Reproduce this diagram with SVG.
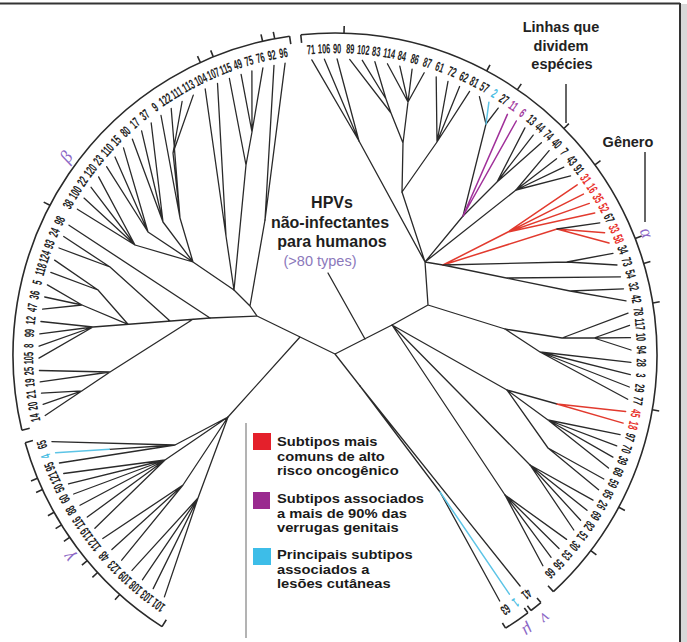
<svg xmlns="http://www.w3.org/2000/svg" width="687" height="642" viewBox="0 0 687 642">
<defs>
<style>
.t{fill:none;stroke:#2a2a2a;stroke-width:1.3;stroke-linecap:round}
.r{fill:none;stroke:#e23a2e;stroke-width:1.5;stroke-linecap:round}
.p{fill:none;stroke:#a0309a;stroke-width:1.5;stroke-linecap:round}
.c{fill:none;stroke:#5cc4e6;stroke-width:1.5;stroke-linecap:round}
.arc{fill:none;stroke:#2a2a2a;stroke-width:1.6}
.l{font-family:"Liberation Sans",Arial,sans-serif;font-weight:bold;font-size:13.5px;fill:#222;text-anchor:middle}
.lr{fill:#e8302a}.lp{fill:#a23a9e}.lc{fill:#48bde3}
.g{font-family:"Liberation Serif","DejaVu Serif",serif;font-style:italic;font-size:18px;fill:#8c68c6;text-anchor:middle}
.a{font-family:"Liberation Sans",Arial,sans-serif;font-weight:bold;font-size:14.5px;fill:#222;text-anchor:middle}
.h{font-family:"Liberation Sans",Arial,sans-serif;font-weight:bold;font-size:16px;fill:#1e1e1e;text-anchor:middle}
.lg{font-family:"Liberation Sans",Arial,sans-serif;font-weight:bold;font-size:12.9px;fill:#1a1a1a}
</style>
</defs>
<rect width="687" height="642" fill="#ffffff"/>
<g id="frame">
<rect x="681" y="4" width="6" height="638" fill="#d8d8d8"/>
<path d="M0 3.5 L680 3.5 M680 3 L680 642" fill="none" stroke="#333" stroke-width="2"/>
</g>

<g id="arcs">
<path class="arc" d="M300.8 34.8 A322 322 0 0 1 553.4 591.6"/>
<path class="arc" d="M21.9 430.2 A322 322 0 0 1 289.6 36.2"/>
<path class="arc" d="M162 626.6 A322 322 0 0 1 25.2 442.7"/>
<path class="arc" d="M540.9 602.6 A322 322 0 0 1 531 610.5 M527.9 612.8 A322 322 0 0 1 505.6 628.1"/>
<path class="arc" d="M289.6 36.2 L290.8 44.1 M21.9 430.2 L29.7 428.3 M25.2 442.7 L32.9 440.5 M162 626.6 L166.3 619.8 M300.8 34.8 L301.6 42.8 M553.4 591.6 L548 585.8 M540.9 602.6 L537 598 M531 610.5 L527.4 605.7 M527.9 612.8 L524.3 608 M505.6 628.1 L502.4 623"/>
<path class="arc" stroke-width="1.3" d="M274.7 38.7 L273.3 31.8 M262.6 41.2 L261 34.4 M213.3 56.9 L210.7 50.4 M200.4 62.5 L197.5 56.1 M49.9 205.3 L43.7 202.1 M344 33.1 L344.2 26.1 M486.7 71 L490 64.8 M517.4 89.6 L521.3 83.9 M563.9 128.5 L568.9 123.6 M594.9 164.8 L600.5 160.7 M635.2 238.6 L641.7 236 M643.7 263.6 L650.4 261.6 M652.8 303 L659.7 301.8 M652.3 409.8 L659.2 411 M618.8 507.2 L624.9 510.5 M590.8 550.6 L596.4 554.8 M37.5 478.2 L31 480.9 M42.5 489.6 L36.1 492.5 M54.1 512.3 L47.9 515.7 M61.5 524.9 L55.6 528.6 M69.6 537.4 L63.9 541.3 M87.3 560.7 L81.9 565.2 M97.6 572.5 L92.4 577.3 M119.7 594.5 L115 599.7"/>
</g>

<g id="connectors">
<path class="t" d="M335 354 L257 316 M335 354 L392 325 M300 337 L228 417 M335 354 L360 386 M257 316 L250 306 M257 316 L210 318 M250 306 L234 290 M250 306 L265 220 M392 325 L428 305 M428 305 L425 262 M392 325 L507 390 M392 325 L530 465 M392 325 L505 495 M428 305 L505 329 M425 262 L359 141 M425 262 L402 192 M425 262 L463 216 M425 262 L516 190 M425 262 L443 265"/>
<path class="t" d="M359 141 L311.8 59.9 M359 141 L324.4 59.2 M359 141 L337.1 59 M402 192 L403 143 M402 192 L437 142 M403 143 L391 113 M391 113 L349.7 59.4 M391 113 L386 99 M386 99 L362.3 60.3 M386 99 L374.9 61.7 M403 143 L408 102 M408 102 L387.4 63.7 M408 102 L399.8 66.2 M408 102 L412.1 69.2 M408 102 L424.2 72.8 M437 142 L436.2 76.8 M437 142 L448 81.4 M437 142 L459.6 86.5 M437 142 L469.6 91.4"/>
<path class="t" d="M463 216 L486 124 M486 124 L479.4 96.6 M486 124 L498.2 108.1 M463 216 L497 182 M497 182 L524.9 127.9 M497 182 L533.2 135.1 M497 182 L541.4 142.8 M516 190 L549.1 150.6 M516 190 L556.6 158.8 M516 190 L563.8 167.2 M516 190 L570.6 175.8"/>
<path class="c" d="M486 124 L488.9 102.2"/>
<path class="p" d="M463 216 L507.4 114.4 M463 216 L516.3 121"/>
<path class="r" d="M443 265 L508 232 M508 232 L577.2 184.8 M508 232 L583.4 194.1 M508 232 L589.3 203.4 M508 232 L594.7 213 M443 265 L557 229 M557 229 L604.6 232.8 M557 229 L609 243"/>
<path class="t" d="M557 229 L599.8 222.8 M443 265 L567 262 M567 262 L613 253.3 M567 262 L617 265 M443 265 L570 291 M507 278 L620.5 276.8 M570 291 L623.5 288.8 M570 291 L626 300.9"/>
<path class="t" d="M505 329 L562 338 M562 338 L594 338 M562 338 L628 313.1 M594 338 L629.5 325.3 M594 338 L630.5 337.7 M594 338 L631 350 M505 329 L540 352 M540 352 L630.9 362.4 M540 352 L630.3 374.7 M540 352 L629.3 387 M540 352 L627.7 399.3"/>
<path class="t" d="M507 390 L557 404 M507 390 L548 420 M548 420 L620.1 434.6 M548 420 L616.7 445.9 M548 420 L612.9 457.1 M548 420 L608.5 468.1 M507 390 L548 448 M548 448 L603.8 479 M548 448 L598.6 489.7"/>
<path class="r" d="M557 404 L625.6 411.5 M557 404 L623.1 423.1"/>
<path class="t" d="M530 465 L593 500.1 M530 465 L587 510.3 M530 465 L580.6 520.2 M530 465 L573.8 530 M505 495 L566.6 539.4 M505 495 L559 548.5 M505 495 L551.1 557.3 M505 495 L542.9 565.8"/>
<path class="t" d="M360 386 L520.1 586 M360 386 L440 492 M440 492 L499.7 601"/>
<path class="c" d="M440 492 L509.4 594.2"/>
<path class="t" d="M234 290 L246 165 M246 165 L252 132 M246 165 L229.4 78.5 M252 132 L262.9 67.9 M252 132 L251.9 70.9 M252 132 L241.1 74.3 M265 220 L285.1 63.2 M265 220 L274 65.4 M234 290 L226 236 M226 236 L217.5 83.3 M226 236 L205.2 89 M234 290 L193 262 M193 262 L180 218 M180 218 L173 153 M173 153 L193.3 95.1 M173 153 L182.1 101.5 M180 218 L171.2 108.5 M180 218 L161 115.5 M193 262 L163 222 M163 222 L151.2 123 M163 222 L141.6 130.9 M163 222 L132.4 139.2 M193 262 L148 232 M148 232 L123.5 147.9 M148 232 L115 157 M148 232 L106.6 166.7 M193 262 L135 245 M135 245 L98.6 176.9 M135 245 L91.1 187.3 M135 245 L84 198.1 M135 245 L77.4 209.2"/>
<path class="t" d="M210 318 L69 225.2 M210 318 L93 327 M193 319.3 L110 372 M110 372 L45.2 415.5 M110 372 L39.4 370.5 M110 372 L40.2 381.8 M82 390.8 L41.5 393.1 M82 390.8 L43.1 404.4 M170 321.1 L110 267 M110 267 L63.7 236.5 M110 267 L59 248 M128 324.3 L98 290 M98 290 L54.6 260.1 M98 290 L50.8 272.4 M128 324.3 L82 305 M82 305 L47.4 284.9 M82 305 L44.7 297 M82 305 L42.6 309.2 M93 327 L40.9 321.5 M93 327 L39.8 333.8 M93 327 L39.1 346.2 M93 327 L39 358.1"/>
<path class="t" d="M228 417 L175 445 M175 445 L51.9 441.6 M175 445 L59.4 463 M175 445 L109.3 449.3 M228 417 L165 460 M165 460 L63.7 473.5 M165 460 L68.5 483.8 M165 460 L73.7 494 M165 460 L80 505.2 M165 460 L87.3 517.1 M165 460 L94.9 528.2 M228 417 L183 485 M183 485 L102.8 538.5 M183 485 L111.9 549.6 M183 485 L121.7 560.2 M228 417 L198 498 M198 498 L132 570.4 M198 498 L142.4 579.8 M198 498 L153.2 588.6 M198 498 L164.4 596.9"/>
<path class="c" d="M55.6 452.8 L109.3 449.3"/>
<path class="t" d="M328 273 L365 339"/>
</g>

<g id="alpha-labels">
<g id="hpv71" transform="rotate(-4.5 335 355)"><text class="l" transform="translate(335 53.2) scale(.55 1)">71</text></g>
<g id="hpv106" transform="rotate(-2.05 335 355)"><text class="l" transform="translate(335 53.2) scale(.55 1)">106</text></g>
<g id="hpv90" transform="rotate(0.4 335 355)"><text class="l" transform="translate(335 53.2) scale(.55 1)">90</text></g>
<g id="hpv89" transform="rotate(2.85 335 355)"><text class="l" transform="translate(335 53.2) scale(.55 1)">89</text></g>
<g id="hpv102" transform="rotate(5.3 335 355)"><text class="l" transform="translate(335 53.2) scale(.55 1)">102</text></g>
<g id="hpv83" transform="rotate(7.75 335 355)"><text class="l" transform="translate(335 53.2) scale(.55 1)">83</text></g>
<g id="hpv114" transform="rotate(10.2 335 355)"><text class="l" transform="translate(335 53.2) scale(.55 1)">114</text></g>
<g id="hpv84" transform="rotate(12.65 335 355)"><text class="l" transform="translate(335 53.2) scale(.55 1)">84</text></g>
<g id="hpv86" transform="rotate(15.1 335 355)"><text class="l" transform="translate(335 53.2) scale(.55 1)">86</text></g>
<g id="hpv87" transform="rotate(17.55 335 355)"><text class="l" transform="translate(335 53.2) scale(.55 1)">87</text></g>
<g id="hpv61" transform="rotate(20 335 355)"><text class="l" transform="translate(335 53.2) scale(.55 1)">61</text></g>
<g id="hpv72" transform="rotate(22.45 335 355)"><text class="l" transform="translate(335 53.2) scale(.55 1)">72</text></g>
<g id="hpv62" transform="rotate(24.9 335 355)"><text class="l" transform="translate(335 53.2) scale(.55 1)">62</text></g>
<g id="hpv81" transform="rotate(27.04 335 355)"><text class="l" transform="translate(335 53.2) scale(.55 1)">81</text></g>
<g id="hpv57" transform="rotate(29.19 335 355)"><text class="l" transform="translate(335 53.2) scale(.55 1)">57</text></g>
<g id="hpv2" transform="rotate(31.33 335 355)"><text class="l lc" transform="translate(335 53.2) scale(.55 1)">2</text></g>
<g id="hpv27" transform="rotate(33.47 335 355)"><text class="l" transform="translate(335 53.2) scale(.55 1)">27</text></g>
<g id="hpv11" transform="rotate(35.62 335 355)"><text class="l lp" transform="translate(335 53.2) scale(.55 1)">11</text></g>
<g id="hpv6" transform="rotate(37.76 335 355)"><text class="l lp" transform="translate(335 53.2) scale(.55 1)">6</text></g>
<g id="hpv13" transform="rotate(39.9 335 355)"><text class="l" transform="translate(335 53.2) scale(.55 1)">13</text></g>
<g id="hpv44" transform="rotate(42.04 335 355)"><text class="l" transform="translate(335 53.2) scale(.55 1)">44</text></g>
<g id="hpv74" transform="rotate(44.19 335 355)"><text class="l" transform="translate(335 53.2) scale(.55 1)">74</text></g>
<g id="hpv40" transform="rotate(46.33 335 355)"><text class="l" transform="translate(335 53.2) scale(.55 1)">40</text></g>
<g id="hpv7" transform="rotate(48.47 335 355)"><text class="l" transform="translate(335 53.2) scale(.55 1)">7</text></g>
<g id="hpv43" transform="rotate(50.62 335 355)"><text class="l" transform="translate(335 53.2) scale(.55 1)">43</text></g>
<g id="hpv91" transform="rotate(52.76 335 355)"><text class="l" transform="translate(335 53.2) scale(.55 1)">91</text></g>
<g id="hpv31" transform="rotate(54.9 335 355)"><text class="l lr" transform="translate(335 53.2) scale(.55 1)">31</text></g>
<g id="hpv16" transform="rotate(57.04 335 355)"><text class="l lr" transform="translate(335 53.2) scale(.55 1)">16</text></g>
<g id="hpv35" transform="rotate(59.19 335 355)"><text class="l lr" transform="translate(335 53.2) scale(.55 1)">35</text></g>
<g id="hpv52" transform="rotate(61.33 335 355)"><text class="l lr" transform="translate(335 53.2) scale(.55 1)">52</text></g>
<g id="hpv67" transform="rotate(63.47 335 355)"><text class="l" transform="translate(335 53.2) scale(.55 1)">67</text></g>
<g id="hpv33" transform="rotate(65.62 335 355)"><text class="l lr" transform="translate(335 53.2) scale(.55 1)">33</text></g>
<g id="hpv58" transform="rotate(67.76 335 355)"><text class="l lr" transform="translate(335 53.2) scale(.55 1)">58</text></g>
<g id="hpv34" transform="rotate(69.9 335 355)"><text class="l" transform="translate(335 53.2) scale(.55 1)">34</text></g>
<g id="hpv73" transform="rotate(72.29 335 355)"><text class="l" transform="translate(335 53.2) scale(.55 1)">73</text></g>
<g id="hpv54" transform="rotate(74.68 335 355)"><text class="l" transform="translate(335 53.2) scale(.55 1)">54</text></g>
<g id="hpv32" transform="rotate(77.08 335 355)"><text class="l" transform="translate(335 53.2) scale(.55 1)">32</text></g>
<g id="hpv42" transform="rotate(79.47 335 355)"><text class="l" transform="translate(335 53.2) scale(.55 1)">42</text></g>
<g id="hpv78" transform="rotate(81.86 335 355)"><text class="l" transform="translate(335 53.2) scale(.55 1)">78</text></g>
<g id="hpv117" transform="rotate(84.25 335 355)"><text class="l" transform="translate(335 53.2) scale(.55 1)">117</text></g>
<g id="hpv10" transform="rotate(86.64 335 355)"><text class="l" transform="translate(335 53.2) scale(.55 1)">10</text></g>
<g id="hpv94" transform="rotate(89.04 335 355)"><text class="l" transform="translate(335 53.2) scale(.55 1)">94</text></g>
<g id="hpv28" transform="rotate(91.43 335 355)"><text class="l" transform="translate(335 53.2) scale(.55 1)">28</text></g>
<g id="hpv3" transform="rotate(93.82 335 355)"><text class="l" transform="translate(335 53.2) scale(.55 1)">3</text></g>
<g id="hpv29" transform="rotate(96.21 335 355)"><text class="l" transform="translate(335 53.2) scale(.55 1)">29</text></g>
<g id="hpv77" transform="rotate(98.6 335 355)"><text class="l" transform="translate(335 53.2) scale(.55 1)">77</text></g>
<g id="hpv45" transform="rotate(101 335 355)"><text class="l lr" transform="translate(335 53.2) scale(.55 1)">45</text></g>
<g id="hpv18" transform="rotate(103.29 335 355)"><text class="l lr" transform="translate(335 53.2) scale(.55 1)">18</text></g>
<g id="hpv97" transform="rotate(105.59 335 355)"><text class="l" transform="translate(335 53.2) scale(.55 1)">97</text></g>
<g id="hpv70" transform="rotate(107.88 335 355)"><text class="l" transform="translate(335 53.2) scale(.55 1)">70</text></g>
<g id="hpv39" transform="rotate(110.17 335 355)"><text class="l" transform="translate(335 53.2) scale(.55 1)">39</text></g>
<g id="hpv68" transform="rotate(112.47 335 355)"><text class="l" transform="translate(335 53.2) scale(.55 1)">68</text></g>
<g id="hpv59" transform="rotate(114.76 335 355)"><text class="l" transform="translate(335 53.2) scale(.55 1)">59</text></g>
<g id="hpv85" transform="rotate(117.05 335 355)"><text class="l" transform="translate(335 53.2) scale(.55 1)">85</text></g>
<g id="hpv26" transform="rotate(119.34 335 355)"><text class="l" transform="translate(335 53.2) scale(.55 1)">26</text></g>
<g id="hpv69" transform="rotate(121.64 335 355)"><text class="l" transform="translate(335 53.2) scale(.55 1)">69</text></g>
<g id="hpv82" transform="rotate(123.93 335 355)"><text class="l" transform="translate(335 53.2) scale(.55 1)">82</text></g>
<g id="hpv51" transform="rotate(126.22 335 355)"><text class="l" transform="translate(335 53.2) scale(.55 1)">51</text></g>
<g id="hpv30" transform="rotate(128.52 335 355)"><text class="l" transform="translate(335 53.2) scale(.55 1)">30</text></g>
<g id="hpv53" transform="rotate(130.81 335 355)"><text class="l" transform="translate(335 53.2) scale(.55 1)">53</text></g>
<g id="hpv56" transform="rotate(133.1 335 355)"><text class="l" transform="translate(335 53.2) scale(.55 1)">56</text></g>
<g id="hpv66" transform="rotate(135.4 335 355)"><text class="l" transform="translate(335 53.2) scale(.55 1)">66</text></g>
</g>

<g id="mu-nu-labels">
<g id="hpv41" transform="rotate(141.3 335 355)"><text class="l" transform="translate(335 53.2) scale(.55 1)">41</text></g>
<g id="hpv1" transform="rotate(143.9 335 355)"><text class="l lc" transform="translate(335 53.2) scale(.55 1)">1</text></g>
<g id="hpv63" transform="rotate(146.2 335 355)"><text class="l" transform="translate(335 53.2) scale(.55 1)">63</text></g>
</g>

<g id="beta-labels">
<g id="hpv96" transform="rotate(-9.7 335 355)"><text class="l" transform="translate(335 53.2) scale(.55 1)">96</text></g>
<g id="hpv92" transform="rotate(-11.9 335 355)"><text class="l" transform="translate(335 53.2) scale(.55 1)">92</text></g>
<g id="hpv76" transform="rotate(-14.1 335 355)"><text class="l" transform="translate(335 53.2) scale(.55 1)">76</text></g>
<g id="hpv75" transform="rotate(-16.3 335 355)"><text class="l" transform="translate(335 53.2) scale(.55 1)">75</text></g>
<g id="hpv49" transform="rotate(-18.5 335 355)"><text class="l" transform="translate(335 53.2) scale(.55 1)">49</text></g>
<g id="hpv115" transform="rotate(-20.9 335 355)"><text class="l" transform="translate(335 53.2) scale(.55 1)">115</text></g>
<g id="hpv107" transform="rotate(-23.4 335 355)"><text class="l" transform="translate(335 53.2) scale(.55 1)">107</text></g>
<g id="hpv104" transform="rotate(-26 335 355)"><text class="l" transform="translate(335 53.2) scale(.55 1)">104</text></g>
<g id="hpv113" transform="rotate(-28.6 335 355)"><text class="l" transform="translate(335 53.2) scale(.55 1)">113</text></g>
<g id="hpv111" transform="rotate(-31.1 335 355)"><text class="l" transform="translate(335 53.2) scale(.55 1)">111</text></g>
<g id="hpv122" transform="rotate(-33.6 335 355)"><text class="l" transform="translate(335 53.2) scale(.55 1)">122</text></g>
<g id="hpv9" transform="rotate(-36 335 355)"><text class="l" transform="translate(335 53.2) scale(.55 1)">9</text></g>
<g id="hpv37" transform="rotate(-38.4 335 355)"><text class="l" transform="translate(335 53.2) scale(.55 1)">37</text></g>
<g id="hpv17" transform="rotate(-40.8 335 355)"><text class="l" transform="translate(335 53.2) scale(.55 1)">17</text></g>
<g id="hpv80" transform="rotate(-43.2 335 355)"><text class="l" transform="translate(335 53.2) scale(.55 1)">80</text></g>
<g id="hpv15" transform="rotate(-45.6 335 355)"><text class="l" transform="translate(335 53.2) scale(.55 1)">15</text></g>
<g id="hpv110" transform="rotate(-48 335 355)"><text class="l" transform="translate(335 53.2) scale(.55 1)">110</text></g>
<g id="hpv23" transform="rotate(-50.5 335 355)"><text class="l" transform="translate(335 53.2) scale(.55 1)">23</text></g>
<g id="hpv120" transform="rotate(-53 335 355)"><text class="l" transform="translate(335 53.2) scale(.55 1)">120</text></g>
<g id="hpv22" transform="rotate(-55.5 335 355)"><text class="l" transform="translate(335 53.2) scale(.55 1)">22</text></g>
<g id="hpv100" transform="rotate(-58 335 355)"><text class="l" transform="translate(335 53.2) scale(.55 1)">100</text></g>
<g id="hpv38" transform="rotate(-60.5 335 355)"><text class="l" transform="translate(335 53.2) scale(.55 1)">38</text></g>
<g id="hpv98" transform="rotate(-64 335 355)"><text class="l" transform="translate(335 53.2) scale(.55 1)">98</text></g>
<g id="hpv24" transform="rotate(-66.4 335 355)"><text class="l" transform="translate(335 53.2) scale(.55 1)">24</text></g>
<g id="hpv93" transform="rotate(-68.8 335 355)"><text class="l" transform="translate(335 53.2) scale(.55 1)">93</text></g>
<g id="hpv124" transform="rotate(-71.3 335 355)"><text class="l" transform="translate(335 53.2) scale(.55 1)">124</text></g>
<g id="hpv118" transform="rotate(-73.8 335 355)"><text class="l" transform="translate(335 53.2) scale(.55 1)">118</text></g>
<g id="hpv5" transform="rotate(-76.3 335 355)"><text class="l" transform="translate(335 53.2) scale(.55 1)">5</text></g>
<g id="hpv36" transform="rotate(-78.7 335 355)"><text class="l" transform="translate(335 53.2) scale(.55 1)">36</text></g>
<g id="hpv47" transform="rotate(-81.1 335 355)"><text class="l" transform="translate(335 53.2) scale(.55 1)">47</text></g>
<g id="hpv12" transform="rotate(-83.5 335 355)"><text class="l" transform="translate(335 53.2) scale(.55 1)">12</text></g>
<g id="hpv99" transform="rotate(-85.9 335 355)"><text class="l" transform="translate(335 53.2) scale(.55 1)">99</text></g>
<g id="hpv8" transform="rotate(-88.3 335 355)"><text class="l" transform="translate(335 53.2) scale(.55 1)">8</text></g>
<g id="hpv105" transform="rotate(-90.6 335 355)"><text class="l" transform="translate(335 53.2) scale(.55 1)">105</text></g>
<g id="hpv25" transform="rotate(-93 335 355)"><text class="l" transform="translate(335 53.2) scale(.55 1)">25</text></g>
<g id="hpv19" transform="rotate(-95.2 335 355)"><text class="l" transform="translate(335 53.2) scale(.55 1)">19</text></g>
<g id="hpv21" transform="rotate(-97.4 335 355)"><text class="l" transform="translate(335 53.2) scale(.55 1)">21</text></g>
<g id="hpv20" transform="rotate(-99.6 335 355)"><text class="l" transform="translate(335 53.2) scale(.55 1)">20</text></g>
<g id="hpv14" transform="rotate(-101.8 335 355)"><text class="l" transform="translate(335 53.2) scale(.55 1)">14</text></g>
</g>

<g id="gamma-labels">
<g id="hpv65" transform="rotate(-107 335 355)"><text class="l" transform="translate(335 53.2) scale(.55 1)">65</text></g>
<g id="hpv4" transform="rotate(-109.3 335 355)"><text class="l lc" transform="translate(335 53.2) scale(.55 1)">4</text></g>
<g id="hpv95" transform="rotate(-111.4 335 355)"><text class="l" transform="translate(335 53.2) scale(.55 1)">95</text></g>
<g id="hpv121" transform="rotate(-113.6 335 355)"><text class="l" transform="translate(335 53.2) scale(.55 1)">121</text></g>
<g id="hpv50" transform="rotate(-115.8 335 355)"><text class="l" transform="translate(335 53.2) scale(.55 1)">50</text></g>
<g id="hpv60" transform="rotate(-118 335 355)"><text class="l" transform="translate(335 53.2) scale(.55 1)">60</text></g>
<g id="hpv88" transform="rotate(-120.5 335 355)"><text class="l" transform="translate(335 53.2) scale(.55 1)">88</text></g>
<g id="hpv116" transform="rotate(-123.2 335 355)"><text class="l" transform="translate(335 53.2) scale(.55 1)">116</text></g>
<g id="hpv119" transform="rotate(-125.8 335 355)"><text class="l" transform="translate(335 53.2) scale(.55 1)">119</text></g>
<g id="hpv112" transform="rotate(-128.3 335 355)"><text class="l" transform="translate(335 53.2) scale(.55 1)">112</text></g>
<g id="hpv48" transform="rotate(-131.1 335 355)"><text class="l" transform="translate(335 53.2) scale(.55 1)">48</text></g>
<g id="hpv123" transform="rotate(-133.9 335 355)"><text class="l" transform="translate(335 53.2) scale(.55 1)">123</text></g>
<g id="hpv109" transform="rotate(-136.7 335 355)"><text class="l" transform="translate(335 53.2) scale(.55 1)">109</text></g>
<g id="hpv108" transform="rotate(-139.4 335 355)"><text class="l" transform="translate(335 53.2) scale(.55 1)">108</text></g>
<g id="hpv103" transform="rotate(-142.1 335 355)"><text class="l" transform="translate(335 53.2) scale(.55 1)">103</text></g>
<g id="hpv101" transform="rotate(-144.8 335 355)"><text class="l" transform="translate(335 53.2) scale(.55 1)">101</text></g>
</g>

<g id="genus-letters">
<text class="g" transform="rotate(-53.6 335 355) translate(335 27)">β</text>
<text class="g" transform="rotate(68.6 335 355) translate(335 26)">α</text>
<text class="g" transform="rotate(-127.2 335 355) translate(335 26)">γ</text>
<text class="g" transform="rotate(141.4 335 355) translate(335 24)">ν</text>
<text class="g" transform="rotate(145 335 355) translate(335 24)">μ</text>
</g>

<g id="note-species">
<text class="a" x="561" y="32">Linhas que</text>
<text class="a" x="561" y="51">dividem</text>
<text class="a" x="562" y="69">espécies</text>
<path d="M566 84 L566 123" stroke="#333" stroke-width="1.5" fill="none"/>
</g>
<g id="note-genus">
<text class="a" x="628" y="147">Gênero</text>
<path d="M645 152 L645 222" stroke="#333" stroke-width="1.5" fill="none"/>
</g>

<g id="center-note">
<text class="h" x="332" y="208">HPVs</text>
<text class="h" x="330" y="228">não-infectantes</text>
<text class="h" x="332" y="247">para humanos</text>
<text x="320" y="266" font-family="Liberation Sans, Arial, sans-serif" font-size="14.5" fill="#8b78bb" text-anchor="middle">(&gt;80 types)</text>
</g>

<g id="legend">
<path d="M246 423 L246 638" stroke="#9a9a9a" stroke-width="1.5" fill="none"/>
<g id="legend-red">
<rect x="253" y="433" width="18" height="17" fill="#e4202b"/>
<text class="lg" transform="translate(277 446) scale(1.14 1)">Subtipos mais</text>
<text class="lg" transform="translate(277 460.5) scale(1.14 1)">comuns de alto</text>
<text class="lg" transform="translate(277 475) scale(1.14 1)">risco oncogênico</text>
</g>
<g id="legend-purple">
<rect x="253" y="492" width="17" height="17" fill="#9a2a8f"/>
<text class="lg" transform="translate(277 503) scale(1.14 1)">Subtipos associados</text>
<text class="lg" transform="translate(277 517.5) scale(1.14 1)">a mais de 90% das</text>
<text class="lg" transform="translate(277 532) scale(1.14 1)">verrugas genitais</text>
</g>
<g id="legend-cyan">
<rect x="253" y="548" width="18" height="17" fill="#3dbde8"/>
<text class="lg" transform="translate(277 559) scale(1.14 1)">Principais subtipos</text>
<text class="lg" transform="translate(277 573.5) scale(1.14 1)">associados a</text>
<text class="lg" transform="translate(277 588) scale(1.14 1)">lesões cutâneas</text>
</g>
</g>
</svg>
